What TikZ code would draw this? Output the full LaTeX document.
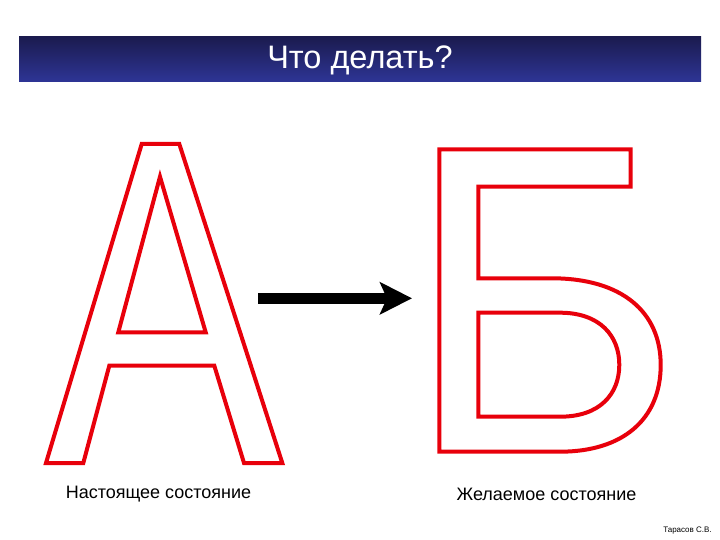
\documentclass[tikz,border=0pt]{standalone}
\usepackage{fontspec}
\setmainfont{Liberation Sans}
\usetikzlibrary{arrows.meta}
\definecolor{barTop}{HTML}{1B1B4F}
\definecolor{barBot}{HTML}{2E3596}
\definecolor{letterRed}{HTML}{E8000B}
\begin{document}
\begin{tikzpicture}[x=1pt,y=-1pt,
  letterline/.style={draw=letterRed,line width=4pt,line join=miter,fill=white,even odd rule},
  captext/.style={font=\fontsize{18}{21}\selectfont,inner sep=0pt},
  arrowline/.style={line width=11pt,-{Stealth[length=32pt,width=32pt,inset=7pt]}}]
\useasboundingbox (0,0) rectangle (720,540);
\fill[white] (0,0) rectangle (720,540);
% header bar
\shade[top color=barTop,bottom color=barBot] (19,37) rectangle (701,82);
\node[text=white,font=\fontsize{32.5}{38}\selectfont,inner sep=0pt] (title) at (360,60) {Что делать?};
% letter A
\draw[letterline] (141.7,144) -- (179.3,144) -- (282.3,463) -- (244,463) -- (214.3,365.7)
  -- (109.3,365.7) -- (83.3,463) -- (46,463) -- cycle
  (160,176.7) -- (205.7,332.3) -- (118.3,332.3) -- cycle;
% letter B (Cyrillic)
\draw[letterline] (439.3,149.3) -- (630.7,149.3) -- (630.7,186.7) -- (478.3,186.7) -- (478.3,278.3)
  -- (551.7,278.3) .. controls (622,278.3) and (660.7,312) .. (660.7,365)
  .. controls (660.7,420) and (622,451.7) .. (560,451.7) -- (439.3,451.7) -- cycle
  (478.3,312.7) -- (560,312.7) .. controls (600,312.7) and (619.3,336) .. (619.3,364.7)
  .. controls (619.3,394) and (600,416.7) .. (560,416.7) -- (478.3,416.7) -- cycle;
% arrow
\coordinate (arrS) at (258,298.3);
\coordinate (arrE) at (412,298.3);
\draw[arrowline] (arrS) -- (arrE);
% labels
\node[captext] (lblA) at (158.5,494) {Настоящее состояние};
\node[captext] (lblB) at (546.5,494) {Желаемое состояние};
\node[font=\fontsize{8}{9}\selectfont,inner sep=0pt] (author) at (687.5,531) {Тарасов С.В.};
\end{tikzpicture}
\end{document}
